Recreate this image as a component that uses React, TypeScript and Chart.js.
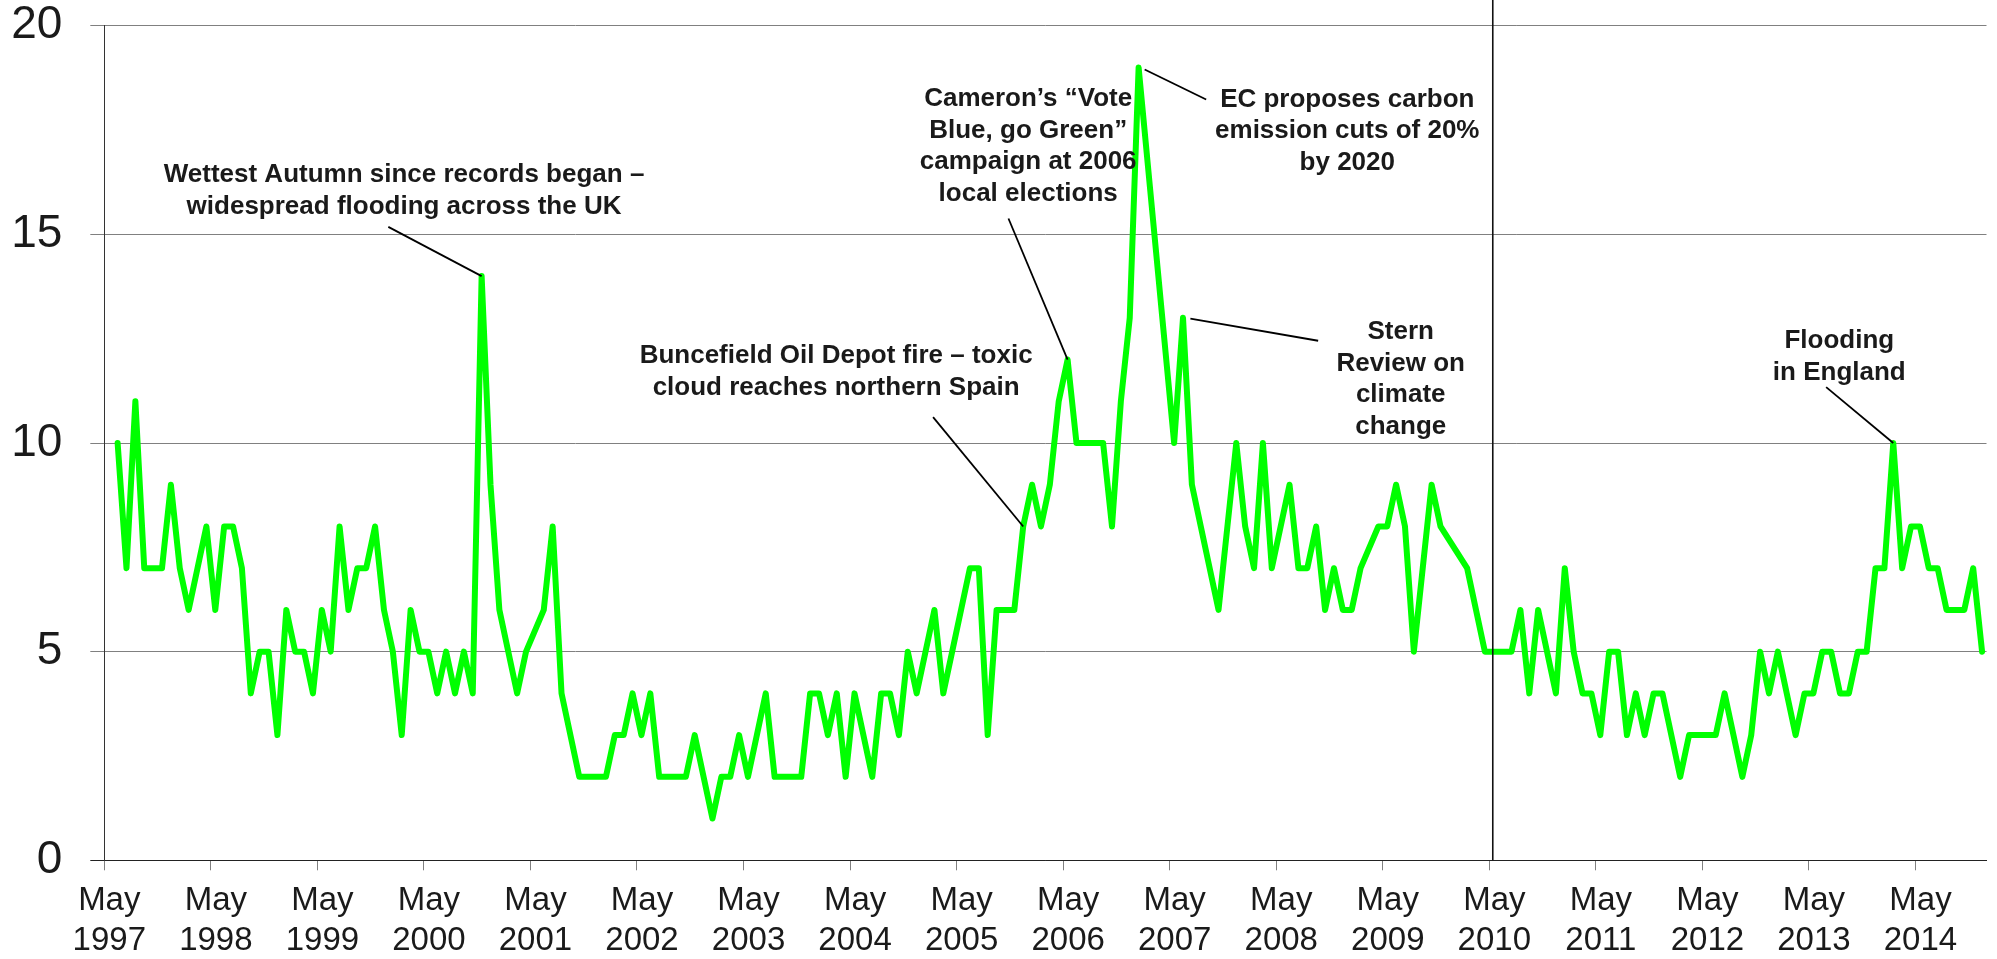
import React, { useEffect, useRef } from 'react';
import { Chart, registerables } from 'chart.js';

Chart.register(...registerables);

// Tick labels: every May from 1997 to 2014
const tickMonth = 'May';
const tickYears = ['1997', '1998', '1999', '2000', '2001', '2002', '2003', '2004', '2005',
  '2006', '2007', '2008', '2009', '2010', '2011', '2012', '2013', '2014'];

// Monthly values, one row per year running May..April (null = no reading)
const v1997 = [null, 10, 7, 11, 7, 7, 7, 9, 7, 6, 7, 8];
const v1998 = [6, 8, 8, 7, 4, 5, 5, 3, 6, 5, 5, 4];
const v1999 = [6, 5, 8, 6, 7, 7, 8, 6, 5, 3, 6, 5];
const v2000 = [5, 4, 5, 4, 5, 4, 14, 9, 6, 5, 4, 5];
const v2001 = [null, 6, 8, 4, 3, 2, 2, 2, 2, 3, 3, 4];
const v2002 = [3, 4, 2, 2, 2, 2, 3, 2, 1, 2, 2, 3];
const v2003 = [2, 3, 4, 2, 2, 2, 2, 4, 4, 3, 4, 2];
const v2004 = [4, 3, 2, 4, 4, 3, 5, 4, 5, 6, 4, 5];
const v2005 = [6, 7, 7, 3, 6, 6, 6, 8, 9, 8, 9, 11];
const v2006 = [12, 10, 10, 10, 10, 8, 11, 13, 19, null, null, null];
const v2007 = [10, 13, 9, 8, 7, 6, 8, 10, 8, 7, 10, 7];
const v2008 = [8, 9, 7, 7, 8, 6, 7, 6, 6, 7, null, 8];
const v2009 = [8, 9, 8, 5, 7, 9, 8, null, null, 7, 6, 5];
const v2010 = [5, 5, 5, 6, 4, 6, 5, 4, 7, 5, 4, 4];
const v2011 = [3, 5, 5, 3, 4, 3, 4, 4, 3, 2, 3, 3];
const v2012 = [3, 3, 4, 3, 2, 3, 5, 4, 5, 4, 3, 4];
const v2013 = [4, 5, 5, 4, 4, 5, 5, 7, 7, 10, 7, 8];
const v2014 = [8, 7, 7, 6, 6, 6, 7, 5];

const yearRows = [v1997, v1998, v1999, v2000, v2001, v2002, v2003, v2004, v2005,
  v2006, v2007, v2008, v2009, v2010, v2011, v2012, v2013, v2014];

// Months on the axis (May 1997 .. Dec 2014)
const monthCount = 212;
// General election, May 2010 (in months since May 1997)
const electionMonth = 156.39;

// Annotations: text anchor and leader line, in axis units (months, value)
const notes = [
  { lines: ['Wettest Autumn since records began –', 'widespread flooding across the UK'],
    tx: 33.76, ty: 16.25, from: [31.99, 15.18], to: [42.5, 14] },
  { lines: ['Buncefield Oil Depot fire – toxic', 'cloud reaches northern Spain'],
    tx: 82.43, ty: 11.92, from: [93.35, 10.62], to: [103.5, 8] },
  { lines: ['Cameron\u2019s \u201cVote', 'Blue, go Green\u201d', 'campaign at 2006', 'local elections'],
    tx: 104.06, ty: 18.08, from: [101.84, 15.38], to: [108.5, 12] },
  { lines: ['EC proposes carbon', 'emission cuts of 20%', 'by 2020'],
    tx: 140.0, ty: 18.06, from: [124.11, 18.23], to: [117.18, 18.95] },
  { lines: ['Stern', 'Review on', 'climate', 'change'],
    tx: 146.02, ty: 12.49, from: [136.72, 12.45], to: [122.33, 12.98] },
  { lines: ['Flooding', 'in England'],
    tx: 195.42, ty: 12.28, from: [193.94, 11.34], to: [201.5, 10] },
];

const FONT = '"Liberation Sans", Arial, Helvetica, sans-serif';
const TEXT = '#1a1a1a';

const notesPlugin = {
  id: 'notes',
  afterDatasetsDraw(chart: any) {
    const { ctx } = chart;
    const xs = chart.scales.x;
    const ys = chart.scales.y;
    ctx.save();
    // election marker
    const vx = xs.getPixelForValue(electionMonth);
    ctx.strokeStyle = '#111';
    ctx.lineWidth = 1.6;
    ctx.beginPath();
    ctx.moveTo(vx, 0);
    ctx.lineTo(vx, ys.getPixelForValue(0));
    ctx.stroke();

    ctx.lineWidth = 1.8;
    ctx.strokeStyle = '#000';
    ctx.fillStyle = TEXT;
    ctx.font = `bold 26px ${FONT}`;
    ctx.textAlign = 'center';
    ctx.textBaseline = 'alphabetic';
    for (const n of notes) {
      ctx.beginPath();
      ctx.moveTo(xs.getPixelForValue(n.from[0]), ys.getPixelForValue(n.from[1]));
      ctx.lineTo(xs.getPixelForValue(n.to[0]), ys.getPixelForValue(n.to[1]));
      ctx.stroke();
      const px = xs.getPixelForValue(n.tx);
      const py = ys.getPixelForValue(n.ty);
      n.lines.forEach((t, i) => ctx.fillText(t, px, py + i * 31.7));
    }
    ctx.restore();
  },
};

export default function App() {
  const canvasRef = useRef<HTMLCanvasElement | null>(null);

  useEffect(() => {
    const values: (number | null)[] = ([] as (number | null)[]).concat(...yearRows);
    const points = values.map((v, i) => ({ x: i + 0.5, y: v }));

    const chart = new Chart(canvasRef.current as HTMLCanvasElement, {
      type: 'line',
      data: {
        datasets: [
          {
            data: points as any,
            borderColor: '#00ff00',
            borderWidth: 6,
            pointRadius: 0,
            tension: 0,
            spanGaps: true,
            borderJoinStyle: 'round',
            borderCapStyle: 'round',
          },
        ],
      },
      options: {
        animation: false,
        responsive: true,
        maintainAspectRatio: false,
        devicePixelRatio: 1,
        layout: { padding: { left: 0, right: 10.5, top: 25.7, bottom: 0 } },
        plugins: { legend: { display: false }, tooltip: { enabled: false } },
        scales: {
          x: {
            type: 'linear',
            min: 0,
            max: monthCount,
            afterBuildTicks: (scale: any) => {
              scale.ticks = tickYears.map((_, i) => ({ value: i * 12 }));
            },
            afterFit: (scale: any) => {
              scale.height = 98.7;
              scale.paddingLeft = 0;
              scale.paddingRight = 0;
            },
            ticks: {
              autoSkip: false,
              maxRotation: 0,
              labelOffset: 5,
              padding: 11,
              color: TEXT,
              font: { family: FONT, size: 33, lineHeight: 1.2 },
              callback: (value: any) => [tickMonth, tickYears[Math.round(Number(value) / 12)]],
            },
            grid: {
              drawOnChartArea: false,
              drawTicks: true,
              tickLength: 10,
              tickColor: '#808080',
              lineWidth: 1,
            },
            border: { display: true, color: '#222', width: 1 },
          },
          y: {
            min: 0,
            max: 20,
            afterFit: (scale: any) => {
              scale.width = 104.3;
              scale.paddingTop = 0;
              scale.paddingBottom = 0;
            },
            ticks: {
              stepSize: 5,
              padding: 28,
              color: TEXT,
              font: { family: FONT, size: 46, lineHeight: 1 },
            },
            grid: {
              color: (c: any) => (c.tick && c.tick.value === 0 ? '#222' : '#808080'),
              tickColor: (c: any) => (c.tick && c.tick.value === 0 ? '#222' : '#808080'),
              lineWidth: 1,
              drawTicks: true,
              tickLength: 14,
            },
            border: { display: true, color: '#333', width: 1 },
          },
        },
      },
      plugins: [notesPlugin],
    });
    return () => chart.destroy();
  }, []);

  return (
    <div style={{ position: 'fixed', left: 0, top: 0, width: '1997px', height: '959px', background: '#fff' }}>
      <canvas ref={canvasRef} />
    </div>
  );
}
